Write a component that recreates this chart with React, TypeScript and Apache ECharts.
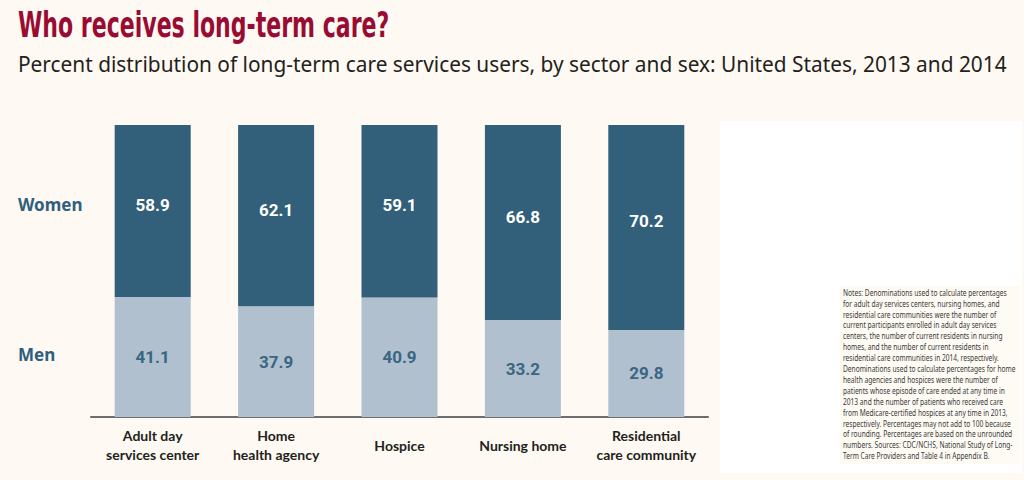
import React, { useEffect, useRef } from "react";
import * as echarts from "echarts";

const categories = [
  "Adult day\nservices center",
  "Home\nhealth agency",
  "Hospice",
  "Nursing home",
  "Residential\ncare community",
];
const women = [58.9, 62.1, 59.1, 66.8, 70.2];
const men = [41.1, 37.9, 40.9, 33.2, 29.8];

const titleText = "Who receives long-term care?";
const subtitleText =
  "Percent distribution of long-term care services users, by sector and sex: United States, 2013 and 2014";

const notesLines = [
  "Notes: Denominations used to calculate percentages",
  "for adult day services centers, nursing homes, and",
  "residential care communities were the number of",
  "current participants enrolled in adult day services",
  "centers, the number of current residents in nursing",
  "homes, and the number of current residents in",
  "residential care communities in 2014, respectively.",
  "Denominations used to calculate percentages for home",
  "health agencies and hospices were the number of",
  "patients whose episode of care ended at any time in",
  "2013 and the number of patients who received care",
  "from Medicare-certified hospices at any time in 2013,",
  "respectively. Percentages may not add to 100 because",
  "of rounding. Percentages are based on the unrounded",
  "numbers. Sources: CDC/NCHS, National Study of Long-",
  "Term Care Providers and Table 4 in Appendix B.",
];

const BG = "#fef9f2";
const DARK = "#325f79";
const LIGHT = "#b0c0cf";
const HEAVY = "'DejaVu Sans', sans-serif";
const LABEL_FONT = "Roboto, 'Liberation Sans', sans-serif";

export default function App() {
  const ref = useRef<HTMLDivElement>(null);
  useEffect(() => {
    document.body.style.margin = "0";
    const chart = echarts.init(ref.current!, null, { renderer: "svg" });
    chart.setOption({
      animation: false,
      backgroundColor: BG,
      grid: { left: 91, right: 316, top: 125, bottom: 63, containLabel: false },
      xAxis: {
        type: "category",
        data: categories,
        axisLine: { lineStyle: { color: "#6d6d6d", width: 2 } },
        axisTick: { show: false },
        axisLabel: {
          interval: 0,
          margin: 28,
          verticalAlign: "middle",
          color: "#231f20",
          fontFamily: "Lato, Roboto, sans-serif",
          fontWeight: "bold",
          fontSize: 14,
          lineHeight: 19,
        },
      },
      yAxis: { type: "value", min: 0, max: 100, show: false },
      series: [
        {
          name: "Men",
          type: "bar",
          stack: "total",
          barWidth: 76,
          data: men,
          itemStyle: { color: LIGHT },
          label: {
            show: true,
            position: "inside",
            color: "#3a6683",
            fontFamily: LABEL_FONT,
            fontWeight: "bold",
            fontSize: 17,
            formatter: (p: any) => p.value.toFixed(1),
          },
        },
        {
          name: "Women",
          type: "bar",
          stack: "total",
          barWidth: 76,
          data: women,
          itemStyle: { color: DARK },
          label: {
            show: true,
            position: "inside",
            offset: [0, -6],
            color: "#ffffff",
            fontFamily: LABEL_FONT,
            fontWeight: "bold",
            fontSize: 17,
            formatter: (p: any) => p.value.toFixed(1),
          },
        },
      ],
      graphic: [
        {
          type: "text",
          x: 18,
          y: 8,
          scaleX: 0.63,
          style: {
            text: titleText,
            fill: "#9a0b33",
            font: `bold 35px ${HEAVY}`,
          },
        },
        {
          type: "text",
          x: 18,
          y: 53,
          style: {
            text: subtitleText,
            fill: "#231f20",
            font: "20.85px 'Noto Sans', 'Open Sans', sans-serif",
          },
        },
        {
          type: "text",
          x: 18,
          y: 196,
          style: {
            text: "Women",
            fill: "#2f5f7c",
            font: "bold 17px 'Noto Sans', 'Open Sans', sans-serif",
          },
        },
        {
          type: "text",
          x: 18,
          y: 346,
          style: {
            text: "Men",
            fill: "#2f5f7c",
            font: "bold 17px 'Noto Sans', 'Open Sans', sans-serif",
          },
        },
        {
          type: "rect",
          shape: { x: 720, y: 121, width: 302, height: 352 },
          style: { fill: "#ffffff" },
          z: -1,
        },
        {
          type: "rect",
          shape: { x: 840, y: 286, width: 180, height: 178 },
          style: { fill: "#fefaf4" },
          z: -1,
        },
        {
          type: "text",
          x: 843,
          y: 287,
          scaleX: 0.78,
          style: {
            text: notesLines.join("\n"),
            fill: "#3a3a3a",
            font: `8.5px 'Noto Sans', 'Open Sans', sans-serif`,
            lineHeight: 10.9,
          },
        },
      ],
    });
    return () => chart.dispose();
  }, []);
  return (
    <div
      ref={ref}
      style={{ position: "fixed", left: 0, top: 0, width: 1024, height: 480 }}
    />
  );
}
